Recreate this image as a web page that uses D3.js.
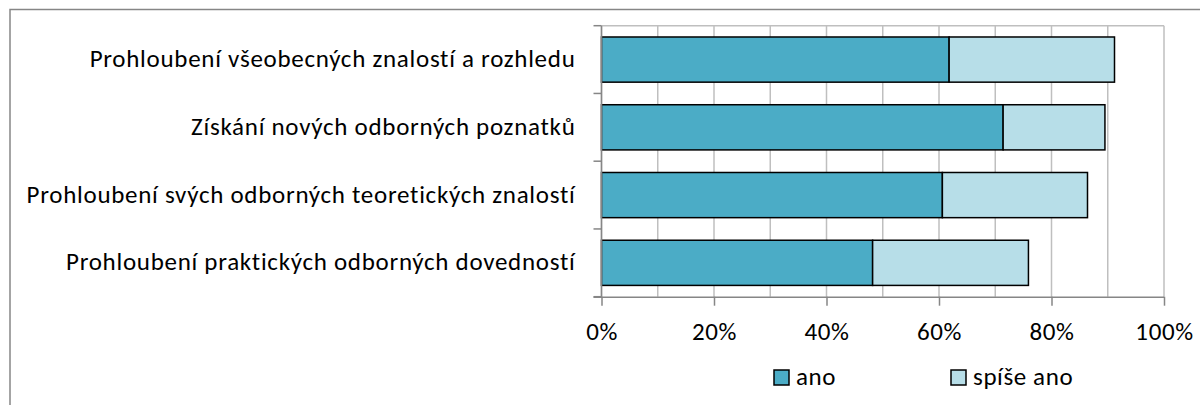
<!DOCTYPE html>
<html>
<head>
<meta charset="utf-8">
<script src="https://cdn.jsdelivr.net/npm/d3@7"></script>
<style>
  body { margin: 0; background: #fff; }
  svg { display: block; }
  text { font-family: Carlito, Calibri, Lato, sans-serif; fill: #000; letter-spacing: 0.6px; }
  .cat { letter-spacing: 0.72px; }
</style>
</head>
<body>
<svg id="chart"></svg>
<script>
const categories = [
  'Prohloubení všeobecných znalostí a rozhledu',
  'Získání nových odborných poznatků',
  'Prohloubení svých odborných teoretických znalostí',
  'Prohloubení praktických odborných dovedností',
];
const ano = [61.8, 71.4, 60.6, 48.2];
const spiseAno = [29.4, 18.1, 25.8, 27.7];
const seriesNames = ['ano', 'spíše ano'];
const seriesColors = ['#4BACC6', '#B7DEE8'];
const xTicks = [0, 20, 40, 60, 80, 100];
const gridTicks = [0, 10, 20, 30, 40, 50, 60, 70, 80, 90, 100];

const width = 1200;
const height = 405;
const plot = { left: 601.5, right: 1164, top: 25.7, bottom: 296.7 };
const fontSize = 25;
const axisColor = '#868686';
const gridColor = '#BFBFBF';

const svg = d3.select('#chart').attr('width', width).attr('height', height);

// outer chart frame (cropped by the window on the right and bottom)
svg.append('rect')
  .attr('x', 10).attr('y', 9.5)
  .attr('width', width).attr('height', height)
  .attr('fill', 'none').attr('stroke', axisColor).attr('stroke-width', 1.5);

const x = d3.scaleLinear().domain([0, 100]).range([plot.left, plot.right]);
const y = d3.scaleBand().domain(categories).range([plot.top, plot.bottom]).paddingInner(1 / 3).paddingOuter(1 / 6);
const band = d3.scaleBand().domain(categories).range([plot.top, plot.bottom]);

// vertical gridlines
svg.append('g')
  .selectAll('line')
  .data(gridTicks)
  .join('line')
  .attr('x1', (d) => x(d)).attr('x2', (d) => x(d))
  .attr('y1', plot.top).attr('y2', plot.bottom)
  .attr('stroke', gridColor).attr('stroke-width', 1.5);

// plot area top border
svg.append('line')
  .attr('x1', plot.left).attr('x2', plot.right)
  .attr('y1', plot.top).attr('y2', plot.top)
  .attr('stroke', gridColor).attr('stroke-width', 1.5);

// stacked bars
const rows = categories.map((c, i) => ({ cat: c, ano: ano[i], spise: spiseAno[i] }));
const stacked = d3.stack().keys(['ano', 'spise'])(rows);

svg.append('g')
  .selectAll('g')
  .data(stacked)
  .join('g')
  .attr('fill', (d, i) => seriesColors[i])
  .selectAll('rect')
  .data((d) => d)
  .join('rect')
  .attr('x', (d) => x(d[0]))
  .attr('y', (d) => y(d.data.cat))
  .attr('width', (d) => x(d[1]) - x(d[0]))
  .attr('height', y.bandwidth())
  .attr('stroke', '#000')
  .attr('stroke-width', 1.5);

// Y axis: category boundaries as outward ticks
const yAxis = svg.append('g');
yAxis.append('line')
  .attr('x1', plot.left).attr('x2', plot.left)
  .attr('y1', plot.top).attr('y2', plot.bottom)
  .attr('stroke', axisColor).attr('stroke-width', 1.5);
yAxis.selectAll('.ytick')
  .data([...categories.map((c) => band(c)), plot.bottom])
  .join('line')
  .attr('class', 'ytick')
  .attr('x1', plot.left - 8).attr('x2', plot.left)
  .attr('y1', (d) => d).attr('y2', (d) => d)
  .attr('stroke', axisColor).attr('stroke-width', 1.5);
yAxis.selectAll('text')
  .data(categories)
  .join('text')
  .attr('class', 'cat')
  .attr('x', plot.left - 26)
  .attr('y', (d) => band(d) + band.bandwidth() / 2)
  .attr('dy', '0.3em')
  .attr('text-anchor', 'end')
  .style('font-size', `${fontSize}px`)
  .text((d) => d);

// X axis
const xAxis = svg.append('g')
  .attr('transform', `translate(0,${plot.bottom})`)
  .call(d3.axisBottom(x).tickValues(xTicks).tickSize(9).tickPadding(17).tickFormat((d) => `${d}%`));
xAxis.select('.domain').attr('stroke', axisColor).attr('stroke-width', 1.5).attr('d', `M${plot.left - 8},0.5H${plot.right}`);
xAxis.selectAll('.tick line').attr('stroke', axisColor).attr('stroke-width', 1.5);
xAxis.selectAll('.tick text')
  .style('font-size', `${fontSize}px`)
  .style('font-family', 'Carlito, Calibri, Lato, sans-serif')
  .attr('fill', '#000');

// legend
const legendX = [774, 951];
const legend = svg.append('g')
  .selectAll('g')
  .data(seriesNames)
  .join('g')
  .attr('transform', (d, i) => `translate(${legendX[i]},370)`);
legend.append('rect')
  .attr('width', 15).attr('height', 15)
  .attr('fill', (d, i) => seriesColors[i])
  .attr('stroke', '#000').attr('stroke-width', 1.5);
legend.append('text')
  .attr('x', 22).attr('y', 15)
  .style('font-size', `${fontSize}px`)
  .text((d) => d);
</script>
</body>
</html>
